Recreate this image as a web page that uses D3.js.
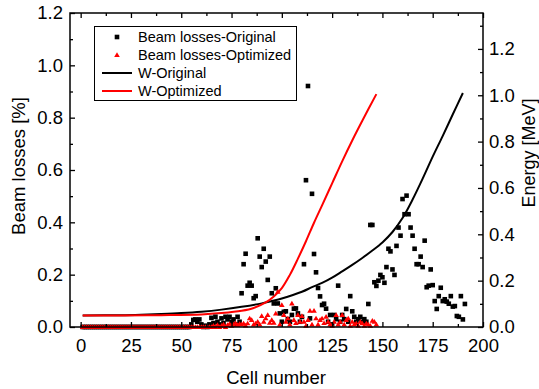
<!DOCTYPE html>
<html>
<head>
<meta charset="utf-8">
<script src="https://cdn.jsdelivr.net/npm/d3@7"></script>
<style>
  body { margin: 0; background: #fff; }
  svg text { font-family: "Liberation Sans", Arial, sans-serif; fill: #000; }
</style>
</head>
<body>
<svg id="chart" width="539" height="389"></svg>
<script>
// Beam losses per cell (%), index 0 = cell 1
const lossOriginal = [
  0,0,0,0,0,0,0,0,0,0,
  0,0,0,0,0,0,0,0,0,0,
  0,0,0,0,0,0,0,0,0,0,
  0,0,0,0,0,0,0,0,0,0,
  0,0,0,0,0,0,0,0,0,0,
  0,0,0,0,0.01,0.027,0.029,0.02,0.029,0.01,
  0,0.005,0,0.01,0.035,0.015,0.039,0.02,0.01,0.033,
  0.015,0.039,0.029,0.039,0.02,0.029,0.01,0.039,0.02,0.129,
  0.24,0.28,0.158,0.169,0.158,0.11,0.118,0.339,0.269,0.229,
  0.299,0.25,0.18,0.269,0.129,0.09,0.148,0.09,0.052,0.02,
  0.058,0.06,0.03,0.02,0.046,0.07,0.071,0.052,0.02,0.039,
  0.24,0.561,0.921,0.033,0.509,0.279,0.209,0.149,0.117,0.084,
  0.089,0.07,0.02,0.046,0.01,0.046,0.03,0.158,0.02,0.046,
  0.03,0.069,0.02,0.118,0.06,0.039,0.02,0.03,0.039,0.02,
  0.03,0.02,0.088,0.39,0.39,0.171,0.157,0.177,0.199,0.19,
  0.169,0.229,0.299,0.289,0.22,0.199,0.31,0.38,0.349,0.489,
  0.431,0.502,0.431,0.38,0.349,0.299,0.24,0.24,0.269,0.229,
  0.33,0.152,0.158,0.22,0.16,0.099,0.069,0.118,0.15,0.099,
  0.106,0.097,0.089,0.118,0.078,0.08,0.042,0.039,0.118,0.029,
  0.088
];

const lossOptimized = [
  0,0,0,0,0,0,0,0,0,0,
  0,0,0,0,0,0,0,0,0,0,
  0,0,0,0,0,0,0,0,0,0,
  0,0,0,0,0,0,0,0,0,0,
  0,0,0,0,0,0,0,0,0,0,
  0,0,0,0,0,0,0,0,0,0,
  0,0,0,0,0,0.005,0,0.008,0,0.005,
  0.01,0,0.008,0.012,0.005,0.01,0.015,0.008,0.012,0.01,
  0.014,0.006,0.014,0.033,0.027,0.01,0.014,0.02,0.01,0.042,
  0.02,0.033,0.046,0.016,0.027,0.016,0.052,0.135,0.01,0.084,
  0.046,0.02,0.033,0.01,0.09,0.027,0.015,0.046,0.02,0.042,
  0.02,0.005,0.027,0.062,0.01,0.062,0.033,0.01,0.027,0.033,
  0.015,0.039,0.02,0.01,0.005,0.02,0.046,0.01,0.02,0.046,
  0.01,0.027,0.033,0.005,0.02,0.01,0.014,0.005,0.02,0.014,
  0.005,0.014,0.01,0.005,0.024,0.02,0.01
];

// Synchronous energy W (MeV) along the structure
const energyCellsOriginal = [1,20,30,40,50,60,70,80,90,95,100,110,115,120,125,130,135,140,145,150,155,160,165,170,175,180,185,190];
const energyOriginal      = [0.05,0.051,0.053,0.056,0.06,0.066,0.075,0.087,0.102,0.112,0.123,0.152,0.172,0.19,0.213,0.24,0.268,0.298,0.33,0.365,0.41,0.47,0.55,0.64,0.735,0.825,0.918,1.01];

const energyCellsOptimized = [1,20,40,60,70,80,86,92,96,100,104,108,112,116,120,125,130,135,140,147];
const energyOptimized      = [0.05,0.05,0.051,0.054,0.06,0.07,0.082,0.106,0.132,0.168,0.225,0.295,0.37,0.45,0.525,0.62,0.715,0.805,0.89,1.005];

const xTicks = [0,25,50,75,100,125,150,175,200];
const yLossTicks = [0,0.2,0.4,0.6,0.8,1.0,1.2];
const yEnergyTicks = [0,0.2,0.4,0.6,0.8,1.0,1.2];

const legendItems = ["Beam losses-Original","Beam losses-Optimized","W-Original","W-Optimized"];

const svg = d3.select("#chart");
const L = 70, R = 483, T = 13, B = 327;

const x = d3.scaleLinear().domain([-5.3, 200]).range([L, R]);
const yLoss = d3.scaleLinear().domain([0, 1.2]).range([B, T]);
const yE = d3.scaleLinear().domain([0, 1.355]).range([B, T]);

const fmt = d3.format(".1f");

// energy curves
const eLine = d3.line()
  .x(d => x(d[0]))
  .y(d => yE(d[1]))
  .curve(d3.curveCatmullRom.alpha(0.5));

svg.append("path")
  .datum(d3.zip(energyCellsOriginal, energyOriginal))
  .attr("d", eLine).attr("fill", "none")
  .attr("stroke", "#000").attr("stroke-width", 2);

svg.append("path")
  .datum(d3.zip(energyCellsOptimized, energyOptimized))
  .attr("d", eLine).attr("fill", "none")
  .attr("stroke", "#ff0000").attr("stroke-width", 2);

// loss markers
const sq = 4.6;
svg.append("g").selectAll("rect")
  .data(lossOriginal.map((v, i) => [i + 1, v]))
  .join("rect")
  .attr("x", d => x(d[0]) - sq / 2)
  .attr("y", d => yLoss(d[1]) - sq / 2)
  .attr("width", sq).attr("height", sq)
  .attr("fill", "#000");

const tri = "M0,-2.7L2.8,2L-2.8,2Z";
svg.append("g").selectAll("path")
  .data(lossOptimized.map((v, i) => [i + 1, v]))
  .join("path")
  .attr("d", tri)
  .attr("transform", d => `translate(${x(d[0])},${yLoss(d[1])})`)
  .attr("fill", "#ff0000");

// axes
const axisStyle = g => {
  g.select(".domain").remove();
  g.selectAll("line").attr("stroke", "#000").attr("stroke-width", 1.3);
  g.selectAll("text").attr("font-size", "18.5px").attr("fill", "#000");
};

const minorX = d3.range(0, 201, 12.5).filter(v => v % 25 !== 0);
const minorY = d3.range(0.1, 1.21, 0.2);
const minorE = d3.range(0.1, 1.31, 0.2);

svg.append("g").attr("transform", `translate(0,${B})`)
  .call(d3.axisBottom(x).tickValues(xTicks).tickSize(-5).tickPadding(12))
  .call(axisStyle);
svg.append("g").attr("transform", `translate(0,${B})`)
  .call(d3.axisBottom(x).tickValues(minorX).tickSize(-3).tickFormat(""))
  .call(axisStyle);
svg.append("g").attr("transform", `translate(0,${T})`)
  .call(d3.axisTop(x).tickValues(xTicks).tickSize(-5).tickFormat(""))
  .call(axisStyle);
svg.append("g").attr("transform", `translate(0,${T})`)
  .call(d3.axisTop(x).tickValues(minorX).tickSize(-3).tickFormat(""))
  .call(axisStyle);

svg.append("g").attr("transform", `translate(${L},0)`)
  .call(d3.axisLeft(yLoss).tickValues(yLossTicks).tickSize(-5).tickPadding(7).tickFormat(fmt))
  .call(axisStyle);
svg.append("g").attr("transform", `translate(${L},0)`)
  .call(d3.axisLeft(yLoss).tickValues(minorY).tickSize(-3).tickFormat(""))
  .call(axisStyle);

svg.append("g").attr("transform", `translate(${R},0)`)
  .call(d3.axisRight(yE).tickValues(yEnergyTicks).tickSize(-5).tickPadding(6).tickFormat(fmt))
  .call(axisStyle);
svg.append("g").attr("transform", `translate(${R},0)`)
  .call(d3.axisRight(yE).tickValues(minorE).tickSize(-3).tickFormat(""))
  .call(axisStyle);

// frame
svg.append("rect")
  .attr("x", L).attr("y", T).attr("width", R - L).attr("height", B - T)
  .attr("fill", "none").attr("stroke", "#000").attr("stroke-width", 1.5);

// axis titles
svg.append("text").attr("x", 276).attr("y", 384)
  .attr("text-anchor", "middle").attr("font-size", "18.5px").text("Cell number");
svg.append("text").attr("transform", "translate(25,166) rotate(-90)")
  .attr("text-anchor", "middle").attr("font-size", "18.5px").text("Beam losses [%]");
svg.append("text").attr("transform", "translate(535,153) rotate(-90)")
  .attr("text-anchor", "middle").attr("font-size", "18px").text("Energy [MeV]");

// legend
const lg = svg.append("g");
lg.append("rect").attr("x", 94.5).attr("y", 26.5).attr("width", 202).attr("height", 74)
  .attr("fill", "#fff").attr("stroke", "#000").attr("stroke-width", 1);
const rowY = i => 37 + i * 18;
lg.append("rect").attr("x", 117 - sq / 2).attr("y", rowY(0) - sq / 2)
  .attr("width", sq).attr("height", sq).attr("fill", "#000");
lg.append("path").attr("d", tri)
  .attr("transform", `translate(117,${rowY(1)})`).attr("fill", "#ff0000");
lg.append("line").attr("x1", 102).attr("x2", 132).attr("y1", rowY(2)).attr("y2", rowY(2))
  .attr("stroke", "#000").attr("stroke-width", 2);
lg.append("line").attr("x1", 102).attr("x2", 132).attr("y1", rowY(3)).attr("y2", rowY(3))
  .attr("stroke", "#ff0000").attr("stroke-width", 2);
lg.selectAll("text.item").data(legendItems).join("text")
  .attr("class", "item")
  .attr("x", 138).attr("y", (d, i) => rowY(i)).attr("dy", "0.36em")
  .attr("font-size", "14.5px").text(d => d);
</script>
</body>
</html>
